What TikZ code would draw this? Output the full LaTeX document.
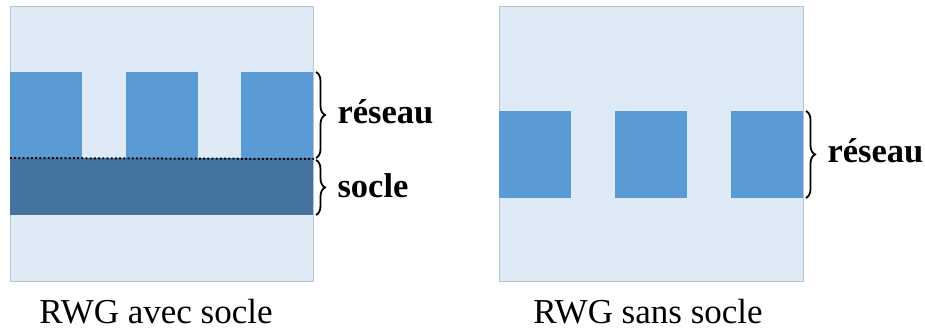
\documentclass[tikz,border=0pt]{standalone}
\usepackage{fontspec}
\setmainfont{Liberation Serif}
\usetikzlibrary{decorations.pathreplacing}

\definecolor{fond}{HTML}{DEEAF6}
\definecolor{grille}{HTML}{5B9BD5}
\definecolor{couche}{HTML}{44739F}
\definecolor{bord}{HTML}{B9C3D3}

\begin{document}
\begin{tikzpicture}[x=1pt,y=-1pt,
   accolade/.style={decorate,decoration={brace,amplitude=9pt},line width=1.8pt},
   etiquette/.style={anchor=base west,font=\fontsize{34.5}{34.5}\selectfont\bfseries},
   legende/.style={anchor=base,font=\fontsize{35}{35}\selectfont}]
   \useasboundingbox (0,0) rectangle (925,331);

   % RWG avec socle
   \fill[fond,draw=bord] (10,6) rectangle (313,281);
   \foreach \x in {10,126,241}
      \fill[grille] (\x,72) rectangle ++(72,86);
   \fill[couche] (10,158) rectangle (313,215);
   \draw[line width=2pt,dash pattern=on 1.8pt off 2.4pt] (10,158) -- (314,159);
   \draw[accolade] (316,72) -- (316,158);
   \draw[accolade] (316,160) -- (316,215);
   \node[etiquette] (reseauA) at (334,124){réseau};
   \node[etiquette] (socleA) at (334,197){socle};
   \node[legende] (titreA) at (156,323){RWG avec socle};

   % RWG sans socle
   \fill[fond,draw=bord] (499,6) rectangle (803,281);
   \foreach \x in {499,615,731}
      \fill[grille] (\x,111) rectangle ++(72,87);
   \draw[accolade] (806,111) -- (806,198);
   \node[etiquette] (reseauB) at (824,163){réseau};
   \node[legende] (titreB) at (648,323){RWG sans socle};
\end{tikzpicture}
\end{document}
